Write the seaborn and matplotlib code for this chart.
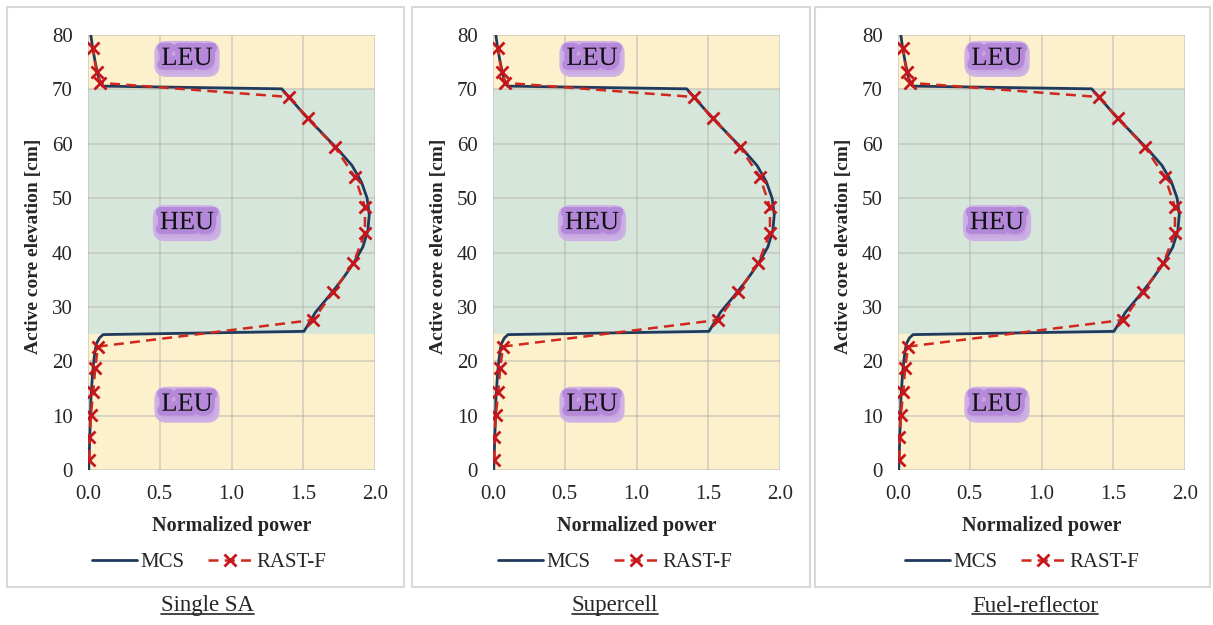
import matplotlib
matplotlib.use("Agg")
import matplotlib.pyplot as plt
import matplotlib.patheffects as pe
from matplotlib.patches import Rectangle
from matplotlib.lines import Line2D
import seaborn as sns
import pandas as pd

# ---------------- data ----------------
panel_titles = ["Single SA", "Supercell", "Fuel-reflector"]

mcs_elev = [0, 4, 8, 13, 17, 20, 22, 23.3, 24.3, 24.9, 25.5, 27, 29, 32, 35, 38, 41, 44, 47, 50,
            53, 56, 59, 62, 65, 68, 70.1, 70.6, 72, 75, 78, 80]
mcs_power = [0.005, 0.01, 0.015, 0.02, 0.03, 0.04, 0.05, 0.06, 0.08, 0.105, 1.505, 1.54, 1.585,
             1.68, 1.77, 1.85, 1.915, 1.95, 1.96, 1.945, 1.905, 1.84, 1.74, 1.63, 1.52, 1.42,
             1.35, 0.10, 0.075, 0.05, 0.03, 0.02]

rast_elev = [1.8, 6.1, 10.1, 14.4, 18.7, 22.7, 27.6, 32.8, 38.1, 43.6, 48.4, 53.9, 59.4, 64.7,
             68.6, 71.2, 73.2, 77.6]
rast_power = [0.01, 0.01, 0.02, 0.037, 0.05, 0.07, 1.57, 1.71, 1.85, 1.93, 1.93, 1.86, 1.72,
              1.53, 1.40, 0.085, 0.06, 0.035]

zone_bounds = [0, 25, 70, 80]
zone_names = ["LEU", "HEU", "LEU"]
label_pos_y = [12, 45.4, 75.6]
label_pos_x = 0.69

x_ticks = [0.0, 0.5, 1.0, 1.5, 2.0]
y_ticks = [0, 10, 20, 30, 40, 50, 60, 70, 80]

# ---------------- styling ----------------
sns.set_theme(style="white")
plt.rcParams["font.family"] = ["Liberation Serif", "DejaVu Serif"]

W, H = 1213, 625
fig = plt.figure(figsize=(W / 100, H / 100), dpi=100)

axes_left_px = [88, 493, 898]
axes_w_px = 287
axes_top_px, axes_bot_px = 35, 470
boxes_px = [(7, 404), (412, 810), (815, 1210)]
legend_cx = [209, 615, 1022]
caption_cx = [207, 615, 1035]

zone_colors = ["#fdf0cc", "#d7e6db", "#fdf0cc"]
mcs_color = "#1f3a5c"
rast_color = "#d0281c"
txt_color = "#262626"

glow = [pe.Stroke(linewidth=7, foreground=(0.70, 0.52, 0.85, 0.9)),
        pe.Normal()]
glow_box = dict(boxstyle="round,pad=0.16,rounding_size=0.35", fc=(0.77, 0.62, 0.88),
                ec=(0.80, 0.68, 0.90), lw=4, alpha=0.9)

mcs_df = pd.DataFrame({"power": mcs_power, "elev": mcs_elev})
rast_df = pd.DataFrame({"power": rast_power, "elev": rast_elev})

for i in range(3):
    # panel frame
    x0, x1 = boxes_px[i]
    fig.patches.append(Rectangle((x0 / W, 1 - 587 / H), (x1 - x0) / W, (587 - 7) / H,
                                 transform=fig.transFigure, fill=False,
                                 edgecolor="#d9d9d9", linewidth=1.5, zorder=0))
    ax = fig.add_axes([axes_left_px[i] / W, 1 - axes_bot_px / H,
                       axes_w_px / W, (axes_bot_px - axes_top_px) / H])
    for (lo, hi), c in zip(zip(zone_bounds[:-1], zone_bounds[1:]), zone_colors):
        ax.axhspan(lo, hi, color=c, zorder=0, linewidth=0)

    sns.lineplot(data=mcs_df, x="power", y="elev", sort=False, estimator=None, ax=ax,
                 color=mcs_color, linewidth=2.0, zorder=3)
    sns.lineplot(data=rast_df, x="power", y="elev", sort=False, estimator=None, ax=ax,
                 color=rast_color, linewidth=1.8, linestyle=(0, (4, 2.5)), marker="x",
                 markersize=9, markeredgewidth=2, markeredgecolor="#c4161c", zorder=4)

    ax.set_xlim(0, 2.0)
    ax.set_ylim(0, 80)
    ax.set_xticks(x_ticks)
    ax.set_xticklabels([f"{v:.1f}" for v in x_ticks])
    ax.set_yticks(y_ticks)
    ax.grid(True, color="#b8b8b0", alpha=0.6, linewidth=1.2)
    ax.set_axisbelow(True)
    for s in ax.spines.values():
        s.set_visible(False)
    ax.tick_params(axis="both", length=0, pad=11, labelsize=15, colors=txt_color)

    ax.set_xlabel("Normalized power", fontsize=14.5, fontweight="bold", color=txt_color)
    ax.xaxis.set_label_coords(0.5, -0.105)
    ax.set_ylabel("Active core elevation [cm]", fontsize=14, fontweight="bold",
                  color=txt_color)
    ax.yaxis.set_label_coords(-0.16, 0.515)

    for name, yy in zip(zone_names, label_pos_y):
        ax.text(label_pos_x, yy, name, fontsize=19, ha="center", va="center",
                color="#111111", path_effects=glow, bbox=glow_box, zorder=5)

    handles = [Line2D([], [], color=mcs_color, linewidth=2.0),
               Line2D([], [], color=rast_color, linewidth=1.8, linestyle=(0, (4, 2.5)),
                      marker="x", markersize=9, markeredgewidth=2,
                      markeredgecolor="#c4161c")]
    fig.legend(handles, ["MCS", "RAST-F"], loc="center",
               bbox_to_anchor=(legend_cx[i] / W, 1 - 562 / H), ncol=2, frameon=False,
               fontsize=15, handlelength=2.2, handletextpad=0.15, columnspacing=1.1,
               labelcolor=txt_color)

    fig.text(caption_cx[i] / W, 1 - 606 / H, panel_titles[i], fontsize=16.5,
             ha="center", va="center", color=txt_color)

# underline captions
fig.canvas.draw()
r = fig.canvas.get_renderer()
for t in fig.texts:
    bb = t.get_window_extent(renderer=r).transformed(fig.transFigure.inverted())
    yline = bb.y0 + 0.004
    fig.add_artist(Line2D([bb.x0, bb.x1], [yline, yline], transform=fig.transFigure,
                          color=txt_color, linewidth=1.2))

fig.savefig("out.png", dpi=100)
